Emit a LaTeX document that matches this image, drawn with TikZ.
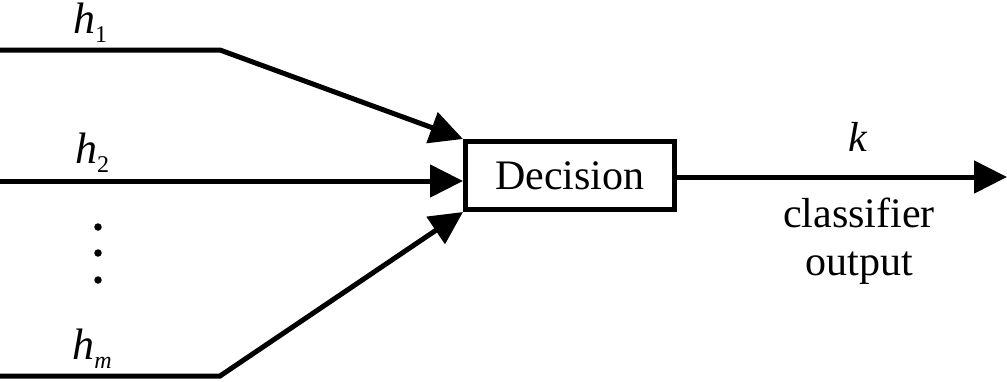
\documentclass[tikz,border=0pt]{standalone}
\usepackage{fontspec}
\setmainfont{Liberation Serif}
\usetikzlibrary{arrows.meta}
\newcommand{\hsub}[1]{{\itshape h}\raisebox{-9pt}{\fontsize{24}{24}\selectfont #1}}
\tikzset{
  wire/.style={line width=5pt},
  arr/.style={wire,-{Triangle[length=33pt,width=32pt]}},
  box/.style={draw,line width=5pt,minimum width=209pt,minimum height=68pt,inner sep=0pt,font=\fontsize{42}{50}\selectfont},
  lbl/.style={font=\fontsize{42}{50}\selectfont,inner sep=0pt},
  hlbl/.style={font=\fontsize{44}{50}\selectfont,inner sep=0pt},
  dot/.style={circle,fill=black,inner sep=0pt,minimum size=7.5pt}
}
\begin{document}
\begin{tikzpicture}[x=1pt,y=-1pt]
\useasboundingbox (0,0) rectangle (1007,381);
\node[box] (dec) at (570,175.5) {Decision};
% inputs
\coordinate (s1) at (0,50);
\coordinate (k1) at (220,50);
\coordinate (s2) at (0,181);
\coordinate (e2) at (463,181);
\coordinate (sm) at (0,376);
\coordinate (km) at (220,376);
\coordinate (out) at (1007,177);
\draw[arr] (s1) -- (k1) -- (dec.north west);
\draw[arr] (s2) -- (e2);
\draw[arr] (sm) -- (km) -- (dec.south west);
\draw[arr] (dec.east |- out) -- (out);
% labels
\node[hlbl,anchor=base] (h1) at (90,33) {\hsub{1}};
\node[hlbl,anchor=base] (h2) at (92,163) {\hsub{2}};
\node[hlbl,anchor=base] (hm) at (92,359) {\hsub{\itshape m}};
\node[dot] (d1) at (98,227) {};
\node[dot] (d2) at (98,253) {};
\node[dot] (d3) at (98,280) {};
\node[lbl,anchor=base] (k) at (858,151) {\itshape k};
\node[lbl,anchor=base] (c1) at (859,227) {classifier};
\node[lbl,anchor=base] (c2) at (859,275) {output};
\end{tikzpicture}
\end{document}
